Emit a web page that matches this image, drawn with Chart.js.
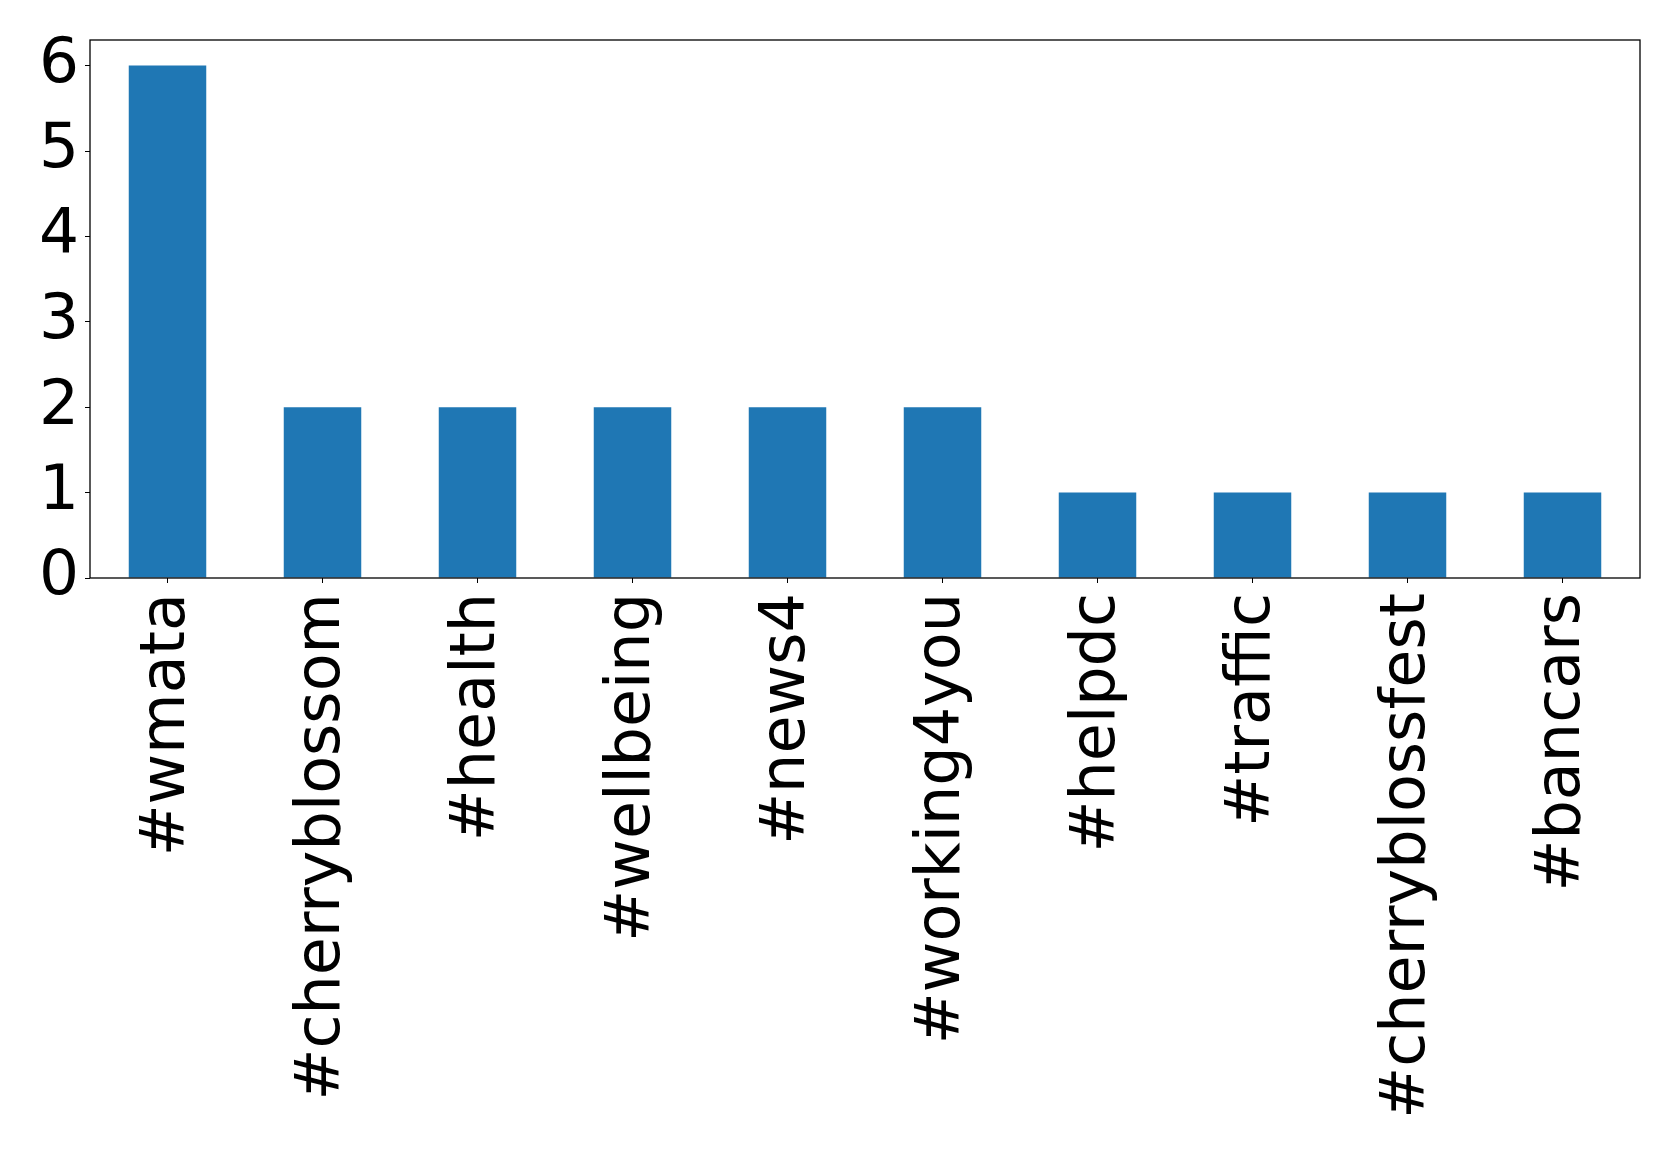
<!DOCTYPE html>
<html>
<head>
<meta charset="utf-8">
<script src="https://cdn.jsdelivr.net/npm/chart.js@4/dist/chart.umd.min.js"></script>
<style>
  html, body { margin: 0; padding: 0; background: #fff; }
  #wrap { width: 1679px; height: 1158px; }
</style>
</head>
<body>
<div id="wrap"><canvas id="chart1"></canvas></div>
<script>
// hashtag counts
var hashtags = ["#wmata", "#cherryblossom", "#health", "#wellbeing", "#news4",
    "#working4you", "#helpdc", "#traffic", "#cherryblossfest", "#bancars"];
var counts = [6, 2, 2, 2, 2, 2, 1, 1, 1, 1];
var yTicks = [0, 1, 2, 3, 4, 5, 6];

// draws the full box around the plot like matplotlib does
var frameBox = {
    id: 'frameBox',
    afterDraw: function (chart) {
        var a = chart.chartArea;
        var c = chart.ctx;
        c.save();
        c.strokeStyle = '#000';
        c.lineWidth = 1.3;
        c.strokeRect(a.left, a.top, a.right - a.left, a.bottom - a.top);
        c.restore();
    }
};

var ctx = document.getElementById("chart1").getContext("2d");
new Chart(ctx, {
    type: 'bar',
    data: {
        labels: hashtags,
        datasets: [{
            data: counts,
            backgroundColor: '#1f77b4',
            barPercentage: 0.5,
            categoryPercentage: 1.0
        }]
    },
    options: {
        responsive: true,
        maintainAspectRatio: false,
        animation: false,
        devicePixelRatio: 1,
        layout: {
            padding: { top: 40, right: 39, left: 0, bottom: 0 }
        },
        plugins: {
            legend: { display: false },
            tooltip: { enabled: false }
        },
        scales: {
            x: {
                offset: true,
                grid: {
                    display: true,
                    offset: false,
                    drawOnChartArea: false,
                    drawTicks: true,
                    tickLength: 5,
                    color: '#000'
                },
                border: { display: false },
                ticks: {
                    color: '#000',
                    font: { family: 'DejaVu Sans', size: 62 },
                    minRotation: 90,
                    maxRotation: 90,
                    autoSkip: false,
                    padding: 10
                },
                afterFit: function (scale) {
                    scale.height = 580;
                    scale.paddingLeft = 0;
                    scale.paddingRight = 0;
                }
            },
            y: {
                min: 0,
                max: 6.3,
                grid: {
                    display: true,
                    drawOnChartArea: false,
                    drawTicks: true,
                    tickLength: 5,
                    color: '#000'
                },
                border: { display: false },
                afterBuildTicks: function (scale) {
                    scale.ticks = yTicks.map(function (v) { return { value: v }; });
                },
                ticks: {
                    color: '#000',
                    font: { family: 'DejaVu Sans', size: 63 },
                    padding: 6
                },
                afterFit: function (scale) {
                    scale.width = 90;
                    scale.paddingTop = 0;
                    scale.paddingBottom = 0;
                }
            }
        }
    },
    plugins: [frameBox]
});
</script>
</body>
</html>
